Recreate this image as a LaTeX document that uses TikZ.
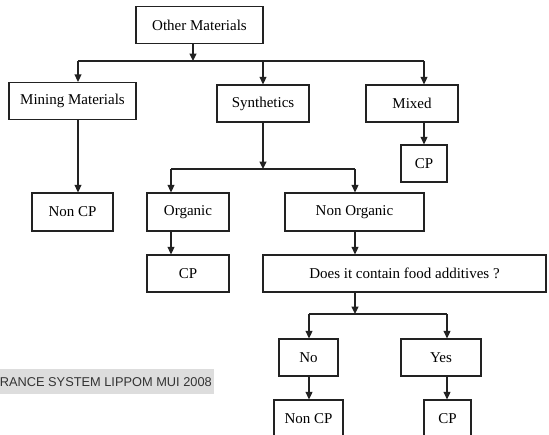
\documentclass[tikz,border=0pt]{standalone}
\usepackage{fontspec}
\setmainfont{Liberation Serif}
\newfontfamily\bannerfont{Liberation Sans}
\usetikzlibrary{arrows.meta}
\definecolor{linegray}{HTML}{222222}
\definecolor{bannergray}{HTML}{DDDDDD}
\definecolor{bannertext}{HTML}{333333}

\begin{document}
\begin{tikzpicture}[x=1pt,y=-1pt,
  box/.style={draw=linegray, line width=1.3pt, inner sep=0pt, minimum height=37,
    font=\fontsize{15}{18}\selectfont},
  arr/.style={draw=linegray, line width=1.3pt, -{Triangle[length=7.5pt,width=7pt]}},
  link/.style={draw=linegray, line width=1.3pt}]
\useasboundingbox (0,0) rectangle (549,434);
\clip (0,0) rectangle (549,434);
% banner
\fill[bannergray] (0,369) rectangle (214,394);
\node[anchor=east, inner sep=0pt, text=bannertext, font=\bannerfont\fontsize{12.8}{15}\selectfont] (banner) at (212,382) {RANCE SYSTEM LIPPOM MUI 2008};
% boxes
\node[box, minimum width=127] (other) at (199.5,25) {Other Materials};
\node[box, minimum width=127] (mining) at (72.5,101) {Mining Materials};
\node[box, minimum width=92] (synth) at (263,103.5) {Synthetics};
\node[box, minimum width=92] (mixed) at (412,103.5) {Mixed};
\node[box, minimum width=46] (cpmix) at (424,163.5) {CP};
\node[box, minimum width=81, minimum height=38] (noncp) at (72.5,212) {Non CP};
\node[box, minimum width=82, minimum height=38] (organic) at (188,212) {Organic};
\node[box, minimum width=139, minimum height=38] (nonorg) at (354.5,212) {Non Organic};
\node[box, minimum width=82] (cporg) at (188,273.5) {CP};
\node[box, minimum width=283] (additives) at (404.5,273.5) {Does it contain food additives ?};
\node[box, minimum width=59] (no) at (308.5,357.5) {No};
\node[box, minimum width=80] (yes) at (441,357.5) {Yes};
\node[box, minimum width=69] (noncpno) at (308.5,418.5) {Non CP};
\node[box, minimum width=47] (cpyes) at (447.5,418.5) {CP};
% junctions
\coordinate (top) at (193,61);
\coordinate (topL) at (78,61);
\coordinate (topR) at (424,61);
\coordinate (mid) at (263,169);
\coordinate (midL) at (171,169);
\coordinate (midR) at (355,169);
\coordinate (low) at (355,314);
\coordinate (lowL) at (309,314);
\coordinate (lowR) at (447,314);
% connectors
\draw[arr] (top |- other.south) -- (top);
\draw[link] (topL) -- (topR);
\draw[arr] (topL) -- (topL |- mining.north);
\draw[arr] (synth.north |- top) -- (synth.north);
\draw[arr] (topR) -- (topR |- mixed.north);
\draw[arr] (cpmix.north |- mixed.south) -- (cpmix.north);
\draw[arr] (topL |- mining.south) -- (topL |- noncp.north);
\draw[arr] (synth.south) -- (mid);
\draw[link] (midL) -- (midR);
\draw[arr] (midL) -- (midL |- organic.north);
\draw[arr] (midR) -- (midR |- nonorg.north);
\draw[arr] (midL |- organic.south) -- (midL |- cporg.north);
\draw[arr] (midR |- nonorg.south) -- (midR |- additives.north);
\draw[arr] (low |- additives.south) -- (low);
\draw[link] (lowL) -- (lowR);
\draw[arr] (lowL) -- (lowL |- no.north);
\draw[arr] (lowR) -- (lowR |- yes.north);
\draw[arr] (lowL |- no.south) -- (lowL |- noncpno.north);
\draw[arr] (lowR |- yes.south) -- (lowR |- cpyes.north);
\end{tikzpicture}
\end{document}
